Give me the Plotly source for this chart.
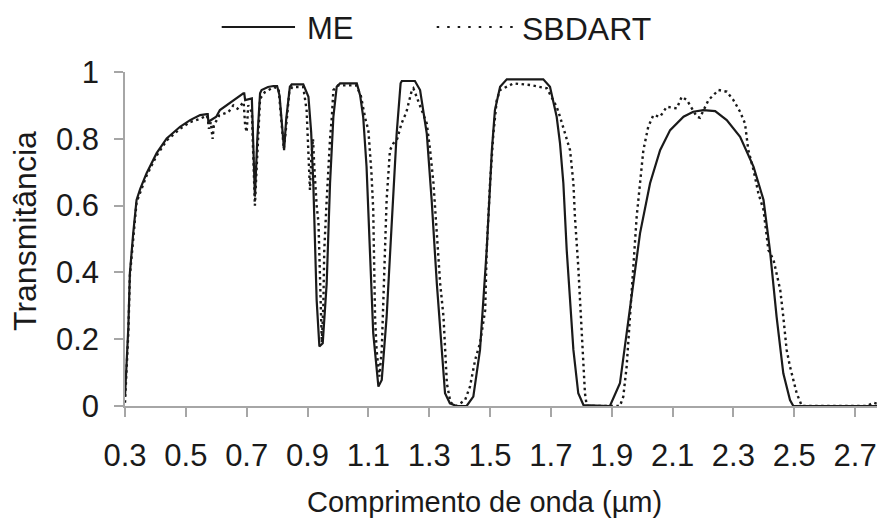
import plotly.graph_objects as go

# ---- data ----
me_x = [0.300, 0.305, 0.311, 0.316, 0.322, 0.327, 0.338, 0.350, 0.371, 0.404, 0.437, 0.481, 0.514,
        0.547, 0.569, 0.572, 0.574, 0.590, 0.600, 0.612, 0.656, 0.689, 0.692, 0.695, 0.717, 0.722,
        0.727, 0.735, 0.744, 0.749, 0.770, 0.788, 0.800, 0.808, 0.816, 0.823, 0.830, 0.842, 0.848,
        0.886, 0.903, 0.912, 0.919, 0.930, 0.939, 0.950, 0.963, 0.974, 0.985, 0.996, 1.007, 1.062,
        1.073, 1.083, 1.094, 1.105, 1.116, 1.133, 1.144, 1.160, 1.177, 1.193, 1.206, 1.210, 1.253,
        1.270, 1.292, 1.308, 1.325, 1.341, 1.352, 1.368, 1.390, 1.423, 1.445, 1.467, 1.489, 1.506,
        1.516, 1.533, 1.555, 1.675, 1.697, 1.719, 1.730, 1.741, 1.752, 1.774, 1.790, 1.807, 1.894,
        1.927, 1.949, 1.971, 1.993, 2.026, 2.059, 2.092, 2.136, 2.168, 2.201, 2.240, 2.278, 2.322,
        2.366, 2.399, 2.420, 2.442, 2.464, 2.486, 2.497, 2.800]
me_y = [0.028, 0.120, 0.237, 0.397, 0.470, 0.517, 0.617, 0.650, 0.697, 0.757, 0.801, 0.836, 0.856,
        0.871, 0.874, 0.874, 0.851, 0.861, 0.866, 0.886, 0.916, 0.936, 0.936, 0.916, 0.921, 0.800,
        0.627, 0.800, 0.936, 0.946, 0.955, 0.958, 0.958, 0.930, 0.840, 0.766, 0.860, 0.956, 0.963,
        0.963, 0.926, 0.820, 0.667, 0.317, 0.178, 0.188, 0.367, 0.667, 0.866, 0.956, 0.966, 0.966,
        0.930, 0.866, 0.717, 0.467, 0.218, 0.058, 0.078, 0.267, 0.567, 0.816, 0.966, 0.973, 0.973,
        0.946, 0.816, 0.617, 0.367, 0.168, 0.038, 0.008, 0.000, 0.000, 0.028, 0.168, 0.467, 0.766,
        0.886, 0.956, 0.978, 0.978, 0.956, 0.866, 0.786, 0.667, 0.467, 0.168, 0.038, 0.003, 0.000,
        0.068, 0.218, 0.367, 0.517, 0.667, 0.766, 0.826, 0.866, 0.881, 0.886, 0.883, 0.856, 0.806,
        0.717, 0.617, 0.467, 0.267, 0.098, 0.018, 0.000, 0.000]

sb_x = [0.300, 0.305, 0.311, 0.316, 0.327, 0.338, 0.371, 0.404, 0.437, 0.481, 0.514, 0.547, 0.569,
        0.572, 0.576, 0.582, 0.588, 0.592, 0.610, 0.640, 0.656, 0.670, 0.690, 0.695, 0.700, 0.705,
        0.717, 0.722, 0.727, 0.732, 0.744, 0.760, 0.790, 0.805, 0.815, 0.822, 0.828, 0.840, 0.850,
        0.886, 0.897, 0.903, 0.908, 0.913, 0.918, 0.922, 0.930, 0.936, 0.941, 0.944, 0.947, 0.952,
        0.955, 0.963, 0.969, 0.974, 0.980, 0.985, 1.000, 1.060, 1.075, 1.090, 1.100, 1.110, 1.116,
        1.119, 1.122, 1.127, 1.136, 1.144, 1.149, 1.155, 1.160, 1.171, 1.182, 1.195, 1.209, 1.225,
        1.243, 1.248, 1.259, 1.275, 1.292, 1.303, 1.314, 1.325, 1.336, 1.347, 1.352, 1.358, 1.370,
        1.390, 1.418, 1.434, 1.451, 1.467, 1.484, 1.489, 1.500, 1.511, 1.522, 1.533, 1.577, 1.632,
        1.687, 1.719, 1.730, 1.763, 1.774, 1.779, 1.790, 1.796, 1.801, 1.807, 1.812, 1.818, 1.927,
        1.938, 1.949, 1.960, 1.971, 1.982, 1.993, 2.004, 2.020, 2.037, 2.059, 2.081, 2.114, 2.130,
        2.147, 2.180, 2.190, 2.218, 2.251, 2.278, 2.300, 2.322, 2.338, 2.349, 2.366, 2.382, 2.399,
        2.415, 2.432, 2.454, 2.464, 2.475, 2.486, 2.508, 2.525, 2.740, 2.760, 2.800]
sb_y = [0.010, 0.100, 0.220, 0.390, 0.510, 0.610, 0.690, 0.750, 0.795, 0.830, 0.850, 0.860, 0.870,
        0.860, 0.830, 0.850, 0.800, 0.840, 0.870, 0.880, 0.900, 0.890, 0.910, 0.840, 0.820, 0.900,
        0.880, 0.700, 0.600, 0.700, 0.920, 0.940, 0.955, 0.950, 0.850, 0.770, 0.820, 0.940, 0.955,
        0.955, 0.886, 0.766, 0.647, 0.750, 0.800, 0.720, 0.600, 0.550, 0.400, 0.250, 0.190, 0.300,
        0.467, 0.617, 0.737, 0.800, 0.866, 0.946, 0.960, 0.960, 0.930, 0.860, 0.826, 0.700, 0.587,
        0.417, 0.267, 0.168, 0.088, 0.168, 0.317, 0.467, 0.617, 0.766, 0.786, 0.800, 0.846, 0.880,
        0.946, 0.951, 0.926, 0.886, 0.846, 0.766, 0.667, 0.517, 0.367, 0.267, 0.168, 0.068, 0.010,
        0.000, 0.018, 0.058, 0.138, 0.188, 0.287, 0.467, 0.667, 0.816, 0.916, 0.946, 0.966, 0.961,
        0.951, 0.896, 0.866, 0.766, 0.667, 0.567, 0.417, 0.317, 0.218, 0.118, 0.038, 0.000, 0.000,
        0.028, 0.118, 0.267, 0.417, 0.567, 0.667, 0.766, 0.836, 0.871, 0.866, 0.896, 0.891, 0.926,
        0.916, 0.866, 0.863, 0.916, 0.946, 0.941, 0.916, 0.881, 0.846, 0.766, 0.707, 0.637, 0.587,
        0.467, 0.437, 0.347, 0.267, 0.168, 0.118, 0.038, 0.000, 0.000, 0.010, 0.000]

series_names = ["ME", "SBDART"]
x_ticks = [0.3, 0.5, 0.7, 0.9, 1.1, 1.3, 1.5, 1.7, 1.9, 2.1, 2.3, 2.5, 2.7]
x_tick_labels = ["0.3", "0.5", "0.7", "0.9", "1.1", "1.3", "1.5", "1.7", "1.9", "2.1", "2.3", "2.5", "2.7"]
y_ticks = [0, 0.2, 0.4, 0.6, 0.8, 1.0]
y_tick_labels = ["0", "0.2", "0.4", "0.6", "0.8", "1"]
x_title = "Comprimento de onda (µm)"
y_title = "Transmitância"

FONT = "Liberation Sans, Arial, sans-serif"
INK = "#1a1a1a"
AXIS = "#a6a6a6"
FS = 31

fig = go.Figure()
fig.add_trace(go.Scatter(x=me_x, y=me_y, mode="lines", name=series_names[0],
                         line=dict(color=INK, width=2.2), showlegend=False))
fig.add_trace(go.Scatter(x=sb_x, y=sb_y, mode="lines", name=series_names[1],
                         line=dict(color=INK, width=2.4, dash="2.5px,3.5px"), showlegend=False))

# manual legend (long line samples like the reference)
fig.add_shape(type="line", xref="paper", yref="paper", x0=0.1286, x1=0.2261, y0=1.1347, y1=1.1347,
              line=dict(color=INK, width=2.2))
fig.add_shape(type="line", xref="paper", yref="paper", x0=0.4145, x1=0.5164, y0=1.1347, y1=1.1347,
              line=dict(color=INK, width=2.2, dash="2.5px,8px"))
fig.add_annotation(text=series_names[0], xref="paper", yref="paper", x=0.239, y=1.13,
                   xanchor="left", yanchor="middle", showarrow=False,
                   font=dict(family=FONT, size=FS, color=INK))
fig.add_annotation(text=series_names[1], xref="paper", yref="paper", x=0.525, y=1.13,
                   xanchor="left", yanchor="middle", showarrow=False,
                   font=dict(family=FONT, size=32, color=INK))

# axis titles placed as in the reference
fig.add_annotation(text=x_title, xref="paper", yref="paper", x=0.4787, y=-0.287,
                   xanchor="center", yanchor="middle", showarrow=False,
                   font=dict(family=FONT, size=29, color=INK))
fig.add_annotation(text=y_title, xref="paper", yref="paper", x=-0.133, y=0.524,
                   xanchor="center", yanchor="middle", showarrow=False, textangle=-90,
                   font=dict(family=FONT, size=32, color=INK))

fig.update_layout(
    width=877, height=522,
    margin=dict(l=125, r=0, t=72, b=116),
    paper_bgcolor="white", plot_bgcolor="white",
    font=dict(family=FONT, size=FS, color=INK),
    showlegend=False,
)
fig.update_xaxes(range=[0.3, 2.772], tickvals=x_ticks, ticktext=x_tick_labels,
                 showgrid=False, zeroline=False, showline=True, linecolor=AXIS, linewidth=1.5,
                 ticks="outside", ticklen=9, tickwidth=1.5, tickcolor=AXIS, ticklabelstandoff=12,
                 tickfont=dict(family=FONT, size=FS, color=INK))
fig.update_yaxes(range=[0, 1.0], tickvals=y_ticks, ticktext=y_tick_labels,
                 showgrid=False, zeroline=False, showline=True, linecolor=AXIS, linewidth=1.5,
                 ticks="outside", ticklen=9, tickwidth=1.5, tickcolor=AXIS, ticklabelstandoff=9,
                 tickfont=dict(family=FONT, size=FS, color=INK))

fig.write_html("out.html")
